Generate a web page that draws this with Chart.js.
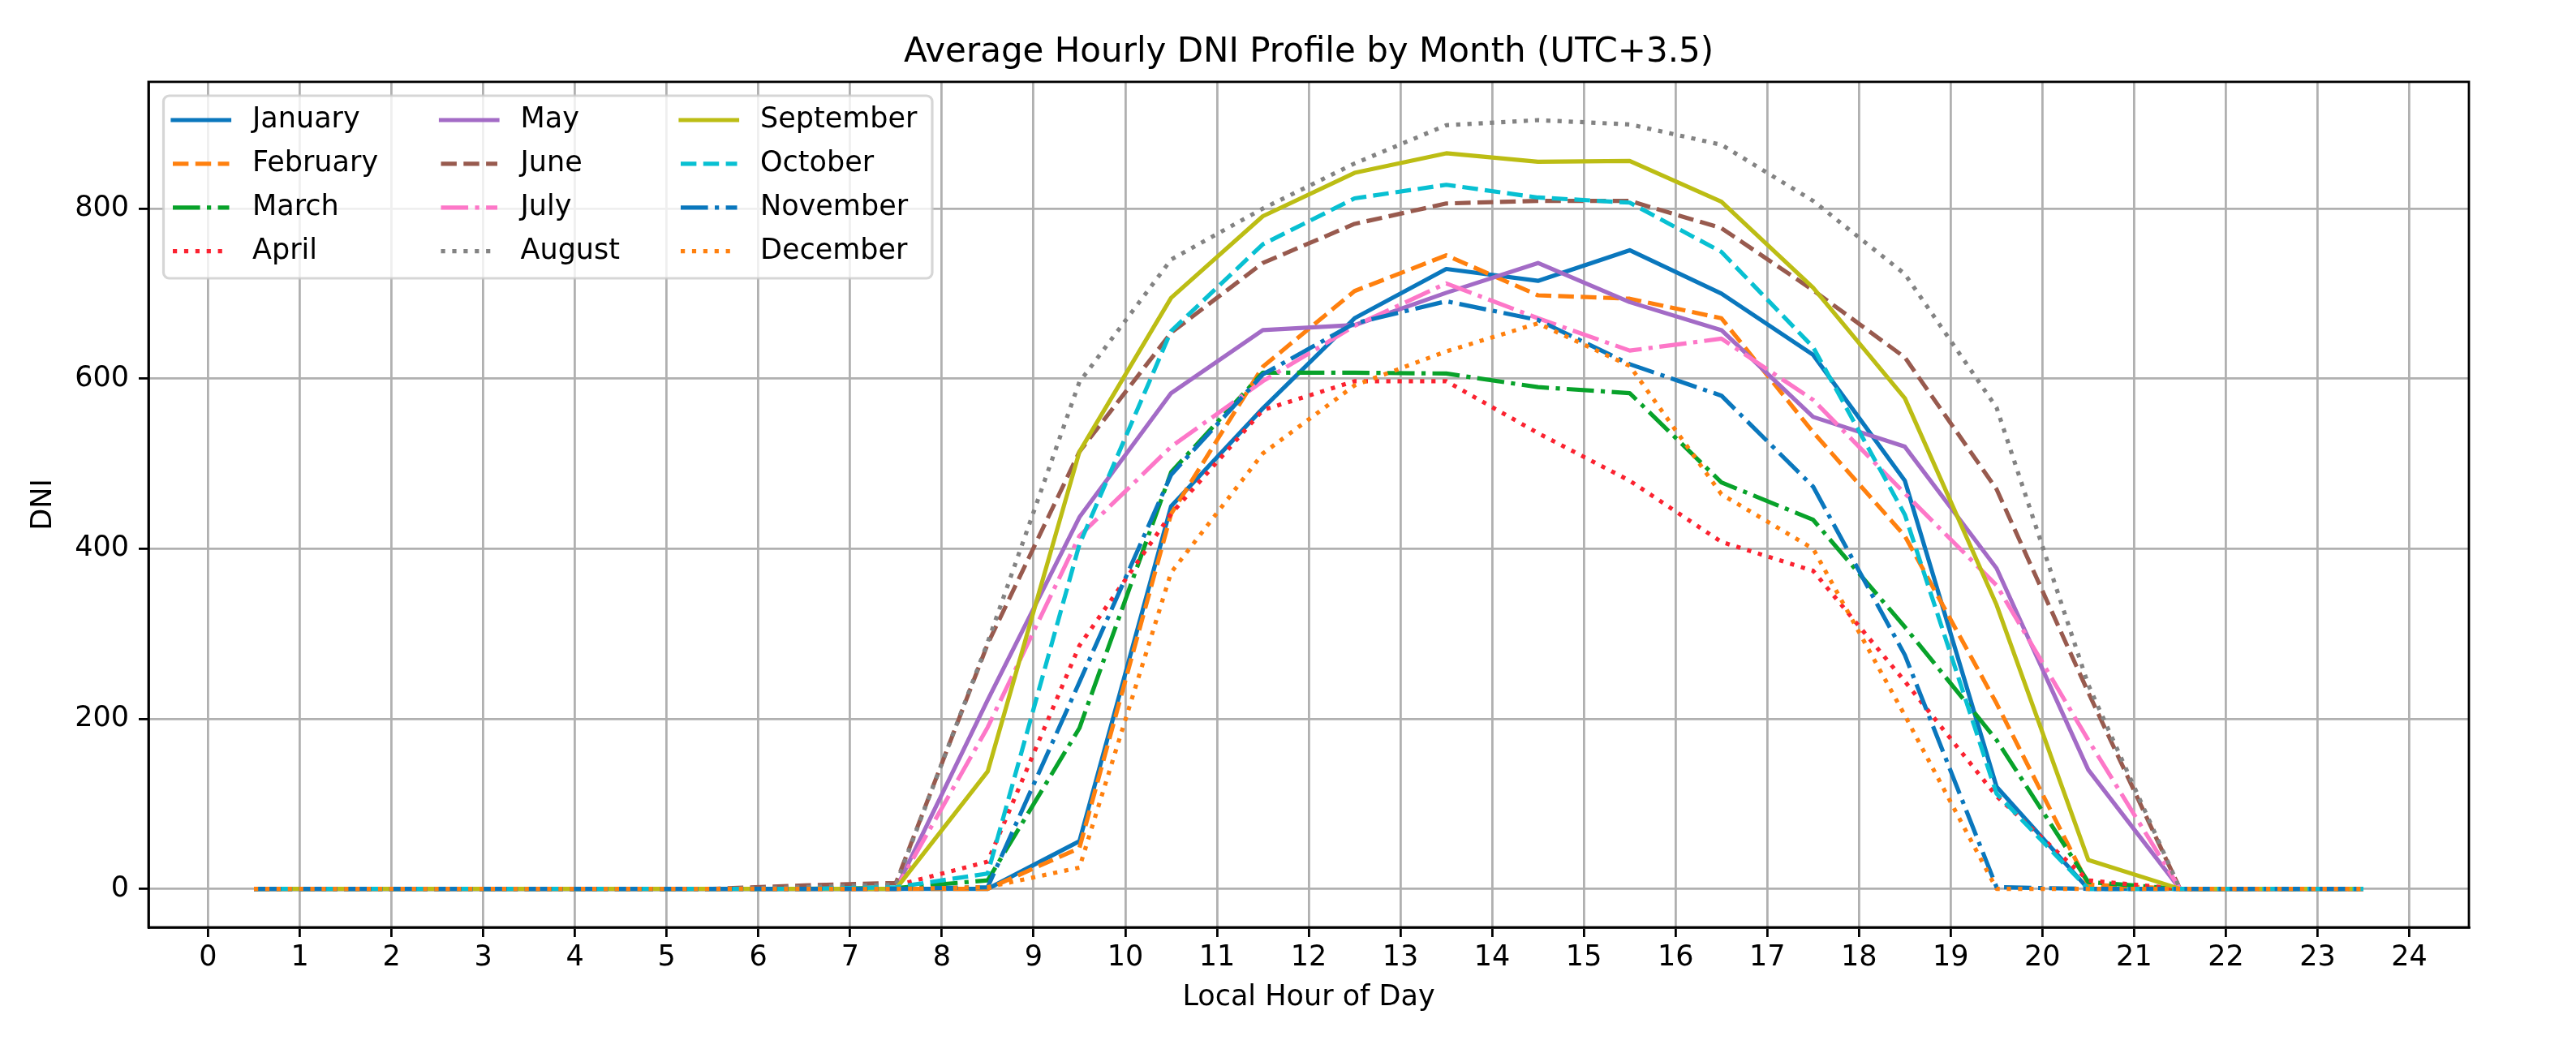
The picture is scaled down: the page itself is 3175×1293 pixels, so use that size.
<!DOCTYPE html>
<html>
<head>
<meta charset="utf-8">
<script src="https://cdn.jsdelivr.net/npm/chart.js@4.4.1/dist/chart.umd.min.js"></script>
<style>
html,body{margin:0;padding:0;background:#ffffff;overflow:hidden}
canvas{display:block}
</style>
</head>
<body>
<canvas id="c" width="3175" height="1293" style="width:3175px;height:1293px"></canvas>
<script>
// ---------------- data ----------------
const hours = [0.5,1.5,2.5,3.5,4.5,5.5,6.5,7.5,8.5,9.5,10.5,11.5,12.5,13.5,14.5,15.5,16.5,17.5,18.5,19.5,20.5,21.5,22.5,23.5];
const xTicks = [0,1,2,3,4,5,6,7,8,9,10,11,12,13,14,15,16,17,18,19,20,21,22,23,24];
const yTicks = [0,200,400,600,800];
const monthNames = ['January','February','March','April','May','June','July','August','September','October','November','December'];

const january   = [0,0,0,0,0,0,0,0,0,56,450,565,671,729,715,751,700,628,480,120,0,0,0,0];
const february  = [0,0,0,0,0,0,0,0,0,48,441,614,703,745,698,694,671,537,415,218,5,0,0,0];
const march     = [0,0,0,0,0,0,0,1,10,189,490,607,607,606,590,583,478,434,308,175,8,0,0,0];
const april     = [0,0,0,0,0,0,0,4,32,286,441,563,597,597,536,480,408,374,244,109,10,0,0,0];
const may       = [0,0,0,0,0,0,0,0,222,437,583,657,663,701,736,690,657,555,520,377,140,0,0,0];
const june      = [0,0,0,0,0,0,4,7,288,514,654,736,782,806,809,809,777,704,625,470,231,0,0,0];
const july      = [0,0,0,0,0,0,0,0,190,415,520,597,662,712,671,633,647,575,465,357,175,0,0,0];
const august    = [0,0,0,0,0,0,2,5,290,596,740,800,853,898,904,899,875,809,723,566,240,0,0,0];
const september = [0,0,0,0,0,0,0,0,138,514,695,791,842,865,855,856,808,707,577,334,34,0,0,0];
const october   = [0,0,0,0,0,0,0,2,18,405,656,758,812,828,813,807,749,637,440,112,0,0,0,0];
const november  = [0,0,0,0,0,0,0,0,2,243,487,605,665,691,669,617,580,473,275,2,0,0,0,0];
const december  = [0,0,0,0,0,0,0,0,2,25,372,512,592,632,665,615,464,400,204,0,0,0,0,0];

const monthSeries = [january,february,march,april,may,june,july,august,september,october,november,december];

// ---------------- styles ----------------
const FONT = "'DejaVu Sans', 'Liberation Sans', sans-serif";
const lineColors = ['#0a77bd','#ff800e','#08a22a','#fb2230','#a36bc6','#985a4e','#fd77c8','#838383','#bcbd14','#08c0d2','#0a77bd','#ff800e'];
const DASH = {
  solid: [],
  dashed: [19.4, 8.4],
  dashdot: [33.6, 8.4, 5.2, 8.4],
  dotted: [5.2, 8.7]
};
const lineKinds = ['solid','dashed','dashdot','dotted','solid','dashed','dashdot','dotted','solid','dashed','dashdot','dotted'];
const LW = 5.2;

const datasets = monthSeries.map((series, i) => ({
  label: monthNames[i],
  data: hours.map((h, k) => ({x: h, y: series[k]})),
  borderColor: lineColors[i],
  backgroundColor: lineColors[i],
  borderWidth: LW,
  borderDash: DASH[lineKinds[i]],
  borderCapStyle: 'butt',
  borderJoinStyle: 'round',
  pointRadius: 0,
  pointHoverRadius: 0,
  tension: 0,
  fill: false,
  order: monthSeries.length - i
}));

// ---------------- plugins ----------------
const frameAndLegend = {
  id: 'frameAndLegend',
  afterDatasetsDraw(chart) {
    const ctx = chart.ctx;
    const ca = chart.chartArea;
    // full axes frame (matplotlib spines)
    ctx.save();
    ctx.strokeStyle = '#000';
    ctx.lineWidth = 2.8;
    ctx.setLineDash([]);
    ctx.strokeRect(ca.left, ca.top, ca.right - ca.left, ca.bottom - ca.top);
    ctx.restore();

    // legend (column-major, 4 rows x 3 cols)
    const box = {x: 201.5, y: 118, w: 947.5, h: 225, r: 7};
    const colHandleX = [213, 543.5, 839];
    const row0 = 148, rowStep = 53.9, handleLen = 69.5, textGap = 28.5;
    ctx.save();
    ctx.beginPath();
    if (ctx.roundRect) ctx.roundRect(box.x, box.y, box.w, box.h, box.r);
    else ctx.rect(box.x, box.y, box.w, box.h);
    ctx.fillStyle = 'rgba(255,255,255,0.8)';
    ctx.fill();
    ctx.lineWidth = 3.2;
    ctx.strokeStyle = 'rgba(204,204,204,0.8)';
    ctx.stroke();

    chart.data.datasets.forEach((ds, i) => {
      const col = Math.floor(i / 4), row = i % 4;
      const hx = colHandleX[col];
      const y = row0 + row * rowStep;
      ctx.beginPath();
      ctx.setLineDash(ds.borderDash || []);
      ctx.lineDashOffset = 0;
      ctx.lineCap = (ds.borderDash && ds.borderDash.length) ? 'butt' : 'square';
      ctx.lineWidth = ds.borderWidth;
      ctx.strokeStyle = ds.borderColor;
      ctx.moveTo(hx, y);
      ctx.lineTo(hx + handleLen, y);
      ctx.stroke();
      ctx.setLineDash([]);
      ctx.fillStyle = '#000';
      ctx.font = '35px ' + FONT;
      ctx.textAlign = 'left';
      ctx.textBaseline = 'middle';
      ctx.fillText(ds.label, hx + handleLen + textGap, y);
    });
    ctx.restore();
  }
};

// ---------------- chart ----------------
new Chart(document.getElementById('c'), {
  type: 'line',
  data: {datasets},
  options: {
    responsive: false,
    animation: false,
    devicePixelRatio: 1,
    events: [],
    layout: {padding: {left: 0, right: 132, top: 0, bottom: 0}},
    plugins: {
      legend: {display: false},
      tooltip: {enabled: false},
      title: {
        display: true,
        text: 'Average Hourly DNI Profile by Month (UTC+3.5)',
        fullSize: false,
        color: '#000',
        font: {family: FONT, size: 42, weight: 'normal', lineHeight: 1.2},
        padding: {top: 40.3, bottom: 10.2}
      }
    },
    scales: {
      x: {
        type: 'linear',
        min: -0.65,
        max: 24.65,
        afterBuildTicks: (axis) => { axis.ticks = xTicks.map(v => ({value: v})); },
        afterFit: (s) => { s.height = 150; },
        grid: {color: '#b0b0b0', lineWidth: 2.8, drawTicks: true, tickLength: 12, tickColor: '#000', tickWidth: 2.8},
        border: {display: true, color: '#000', width: 2.8},
        ticks: {color: '#000', font: {family: FONT, size: 35, lineHeight: 1.2}, padding: 5.4, maxRotation: 0, minRotation: 0, autoSkip: false},
        title: {display: true, text: 'Local Hour of Day', color: '#000', font: {family: FONT, size: 35, lineHeight: 1.2}, padding: {top: 0, bottom: 42}}
      },
      y: {
        type: 'linear',
        min: -45.2,
        max: 949,
        afterBuildTicks: (axis) => { axis.ticks = yTicks.map(v => ({value: v})); },
        afterFit: (s) => { s.width = 183; },
        grid: {color: '#b0b0b0', lineWidth: 2.8, drawTicks: true, tickLength: 12, tickColor: '#000', tickWidth: 2.8},
        border: {display: true, color: '#000', width: 2.8},
        ticks: {color: '#000', font: {family: FONT, size: 35, lineHeight: 1.2}, padding: 12, autoSkip: false},
        title: {display: true, text: 'DNI', color: '#000', font: {family: FONT, size: 35, lineHeight: 1.2}, padding: {top: 33, bottom: 0}}
      }
    }
  },
  plugins: [frameAndLegend]
});
</script>
</body>
</html>
